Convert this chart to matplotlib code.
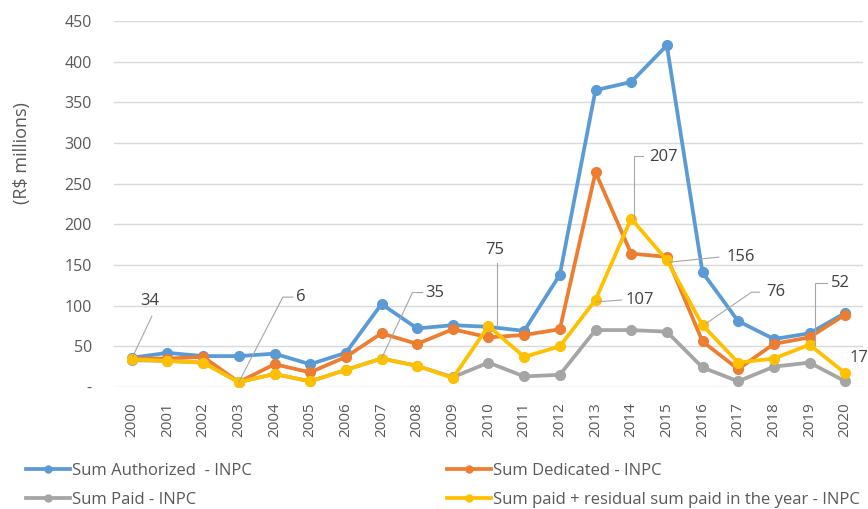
import matplotlib
matplotlib.use("Agg")
import matplotlib.pyplot as plt
from matplotlib.lines import Line2D

W, H = 868, 509
years = [str(y) for y in range(2000, 2021)]
authorized = [36, 42, 38, 38, 41, 28, 42, 102, 72, 76, 74, 69, 138, 365, 375, 420, 141, 81, 59, 66, 91]
dedicated = [35, 35, 37, 6, 28, 18, 37, 66, 53, 71, 61, 64, 71, 264, 164, 160, 56, 22, 53, 61, 89]
paid = [33, 32, 30, 6, 16, 7, 21, 35, 26, 12, 30, 13, 15, 70, 70, 68, 24, 7, 25, 30, 7]
paid_residual = [34, 32, 30, 6, 16, 7, 21, 35, 26, 11, 75, 37, 50, 107, 207, 156, 76, 30, 35, 52, 17]

series_names = ["Sum Authorized  - INPC", "Sum Dedicated - INPC", "Sum Paid - INPC",
                "Sum paid + residual sum paid in the year - INPC"]
colors = ["#5B9BD5", "#ED7D31", "#A5A5A5", "#FFC000"]
yticks = [0, 50, 100, 150, 200, 250, 300, 350, 400, 450]
ytick_labels = ["-"] + [str(v) for v in yticks[1:]]

# labelled points of the last series: (index, text dx, dy, leader path offsets) in pixels (y down)
labels = [
    (0, (18, -58), [(1, -3), (20, -43)], "center"),
    (3, (57, -85), [(0, 0), (44, -85), (54, -85)], "left"),
    (7, (44, -66), [(0, 0), (31, -66), (41, -66)], "left"),
    (10, (6, -76), [(9, 0), (9, -63)], "center"),
    (14, (18, -62), [(3, 0), (3, -63), (12, -63)], "left"),
    (15, (60, -3), [(3, 2), (52, -3)], "left"),
    (13, (30, 0), [(1, 2), (26, 0)], "left"),
    (16, (64, -33), [(4, -2), (49, -33), (57, -33)], "left"),
    (19, (21, -62), [(5, 0), (5, -62), (17, -62)], "left"),
    (20, (4, -15), None, "left"),
]

plt.rcParams['font.family'] = ['Open Sans', 'DejaVu Sans']
fig = plt.figure(figsize=(W / 100, H / 100), dpi=100)
ax = fig.add_axes([114 / W, 1 - 387 / H, 749 / W, 366 / H])

x = list(range(len(years)))
all_series = [authorized, dedicated, paid, paid_residual]
handles = []
for vals, c in zip(all_series, colors):
    h, = ax.plot(x, vals, color=c, lw=2.7, marker='o', ms=7, solid_joinstyle='round',
                 zorder=3)
    handles.append(h)

ax.set_xlim(-0.5, len(years) - 0.5)
ax.set_ylim(0, 450)
ax.set_yticks(yticks)
ax.set_yticklabels(ytick_labels)
ax.set_xticks(x)
ax.set_xticklabels(years, rotation=90)
ax.tick_params(axis='y', length=0, pad=16, labelsize=11.5, labelcolor='#595959')
ax.tick_params(axis='x', length=0, pad=11, labelsize=11, labelcolor='#595959')
for s in ax.spines.values():
    s.set_visible(False)
ax.grid(axis='y', color='#D9D9D9', lw=1)
ax.set_axisbelow(True)

fig.text(22 / W, 1 - 153 / H, "(R$ millions)", rotation=90, ha='center', va='center',
         fontsize=13, color='#595959')

# annotations
fig.canvas.draw()
for idx, (tdx, tdy), path, ha in labels:
    px, py = ax.transData.transform((idx, paid_residual[idx]))
    py_img = H - py
    if path:
        xs = [(px + dx) / W for dx, dy in path]
        ys = [1 - (py_img + dy) / H for dx, dy in path]
        fig.add_artist(Line2D(xs, ys, transform=fig.transFigure, color='#A6A6A6', lw=0.8,
                              zorder=5))
    fig.text((px + tdx) / W, 1 - (py_img + tdy) / H, f"{paid_residual[idx]:.0f}",
             ha=ha, va='center', fontsize=12, color='#404040', zorder=6)

# legend
fs = 12
fs_px = fs * 100 / 72
pos = [(26, 471), (447, 471), (26, 500), (447, 500)]
for h, name, (lx, ly) in zip(handles, series_names, pos):
    lh = Line2D([], [], color=h.get_color(), lw=2.7, marker='o', ms=5)
    leg = fig.legend([lh], [name], loc='center left', bbox_to_anchor=(lx / W, 1 - ly / H),
                     frameon=False, borderpad=0, borderaxespad=0,
                     handlelength=44 / fs_px, handletextpad=2 / fs_px, fontsize=fs,
                     labelcolor='#595959')

fig.savefig("out.png", dpi=100)
